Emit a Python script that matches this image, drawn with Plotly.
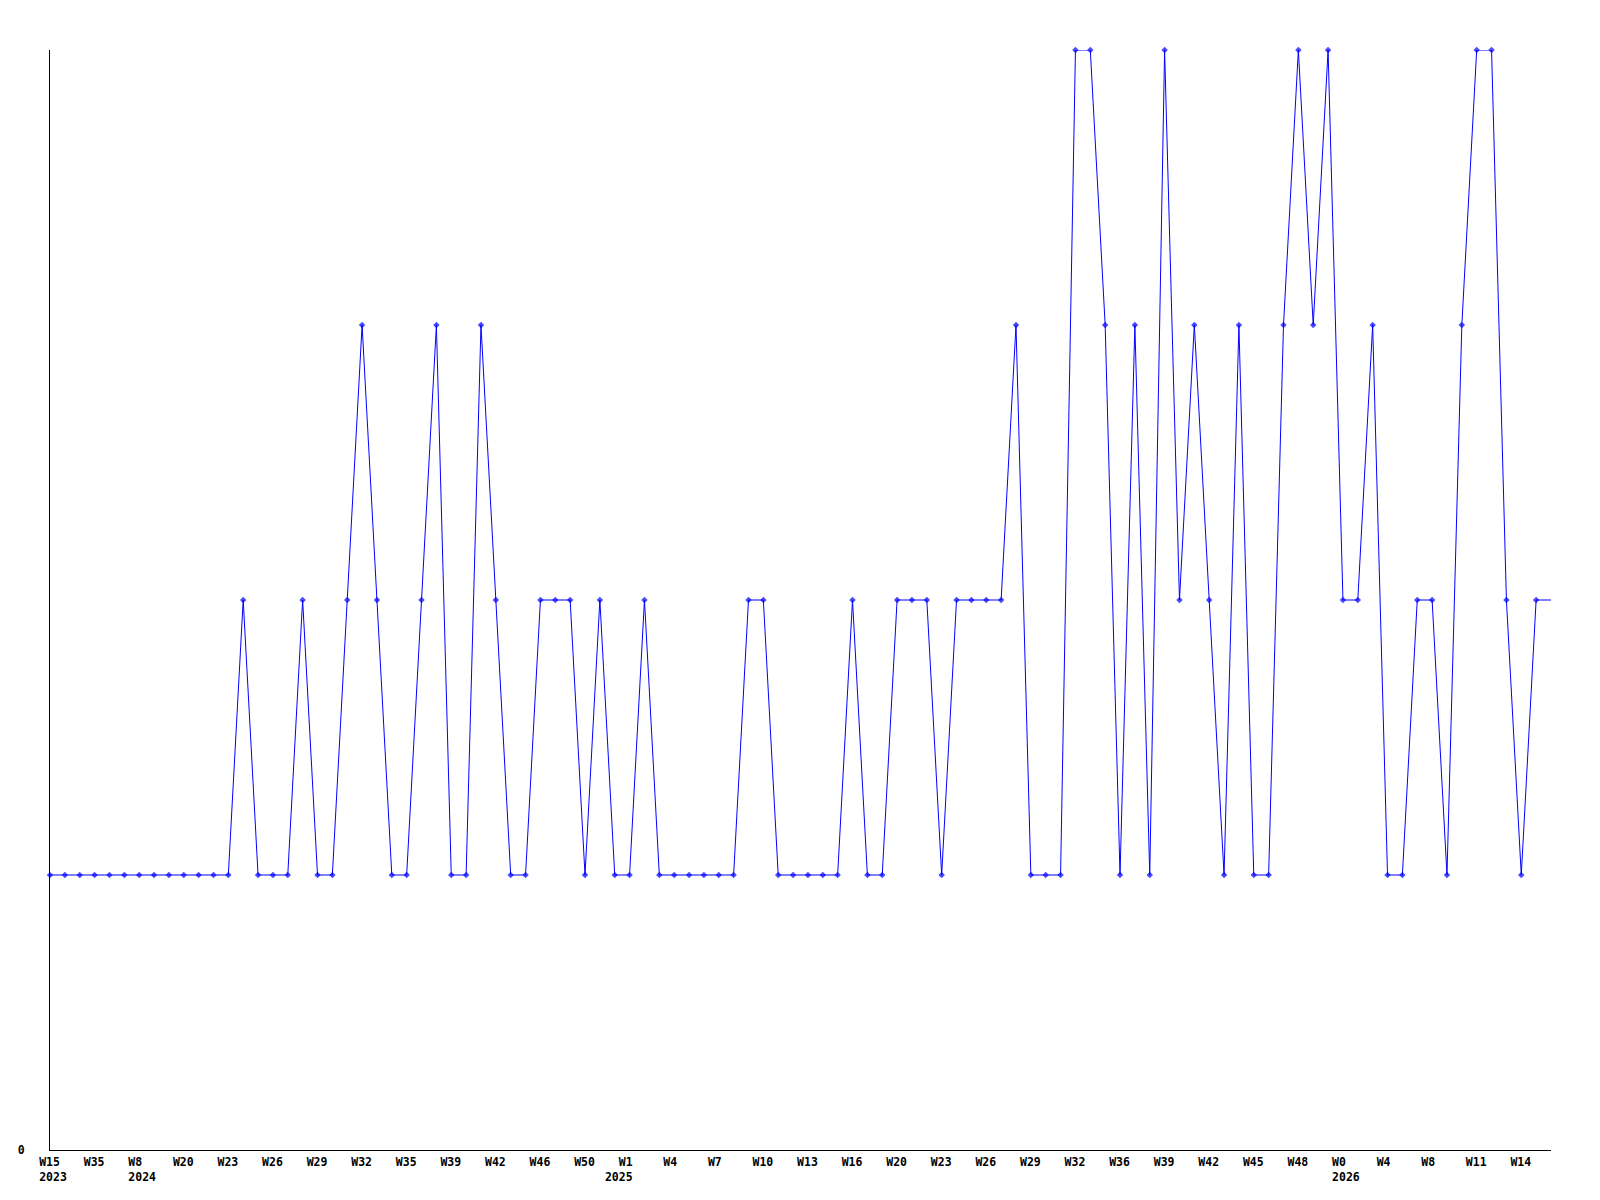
import plotly.graph_objects as go

# Weekly values (one per point), last value is the trailing "current" point (drawn without marker)
values = [1, 1, 1, 1, 1, 1, 1, 1, 1, 1, 1, 1, 1,
          2, 1, 1, 1, 2, 1, 1, 2, 3, 2, 1, 1, 2, 3, 1, 1, 3, 2, 1, 1,
          2, 2, 2, 1, 2, 1, 1, 2, 1, 1, 1, 1, 1, 1, 2, 2, 1, 1, 1, 1, 1,
          2, 1, 1, 2, 2, 2, 1, 2, 2, 2, 2, 3, 1, 1, 1, 4, 4, 3, 1, 3, 1,
          4, 2, 3, 2, 1, 3, 1, 1, 3, 4, 3, 4, 2, 2, 3, 1, 1, 2, 2, 1, 3,
          4, 4, 2, 1, 2,
          2]

week_labels = ["W15", "W35", "W8", "W20", "W23", "W26", "W29", "W32", "W35", "W39",
               "W42", "W46", "W50", "W1", "W4", "W7", "W10", "W13", "W16", "W20",
               "W23", "W26", "W29", "W32", "W36", "W39", "W42", "W45", "W48", "W0",
               "W4", "W8", "W11", "W14"]
year_labels = {0: "2023", 2: "2024", 13: "2025", 29: "2026"}

n = len(values)
x = list(range(n))
tick_step = 3
tickvals = list(range(0, n - 1, tick_step))

NB = "\u00a0"
ticktext = []
for i, w in enumerate(week_labels):
    t = w + NB * (4 - len(w))
    if i in year_labels:
        y = year_labels[i]
        if y == "2025":
            y = y + NB * 4
        t = t + "<br>" + y
    ticktext.append(t)

marker_sizes = [5] * (n - 1) + [0]

fig = go.Figure()
fig.add_trace(go.Scatter(
    x=x, y=values, mode="lines+markers",
    line=dict(color="#0000ff", width=1),
    marker=dict(symbol="diamond", size=marker_sizes, color="#0000ff",
                line=dict(width=0)),
    cliponaxis=False,
    showlegend=False,
))

font = dict(family="DejaVu Sans Mono", size=11.5, color="black", weight="bold")

fig.update_layout(
    width=1584, height=1184,
    margin=dict(l=42, r=41, t=42, b=42),
    paper_bgcolor="white", plot_bgcolor="white",
    font=font,
    xaxis=dict(range=[0, n - 1], showgrid=False, zeroline=False, automargin=False,
               showline=True, linecolor="black", linewidth=1,
               tickmode="array", tickvals=tickvals, ticktext=ticktext,
               ticks="", tickfont=font, ticklabelshift=3, ticklabelstandoff=1),
    yaxis=dict(range=[0, 4], showgrid=False, zeroline=False, automargin=False,
               showline=True, linecolor="black", linewidth=1,
               tickmode="array", tickvals=[0], ticktext=["0"],
               ticks="", tickfont=font, ticklabelstandoff=22),
)

fig.write_html("out.html")
